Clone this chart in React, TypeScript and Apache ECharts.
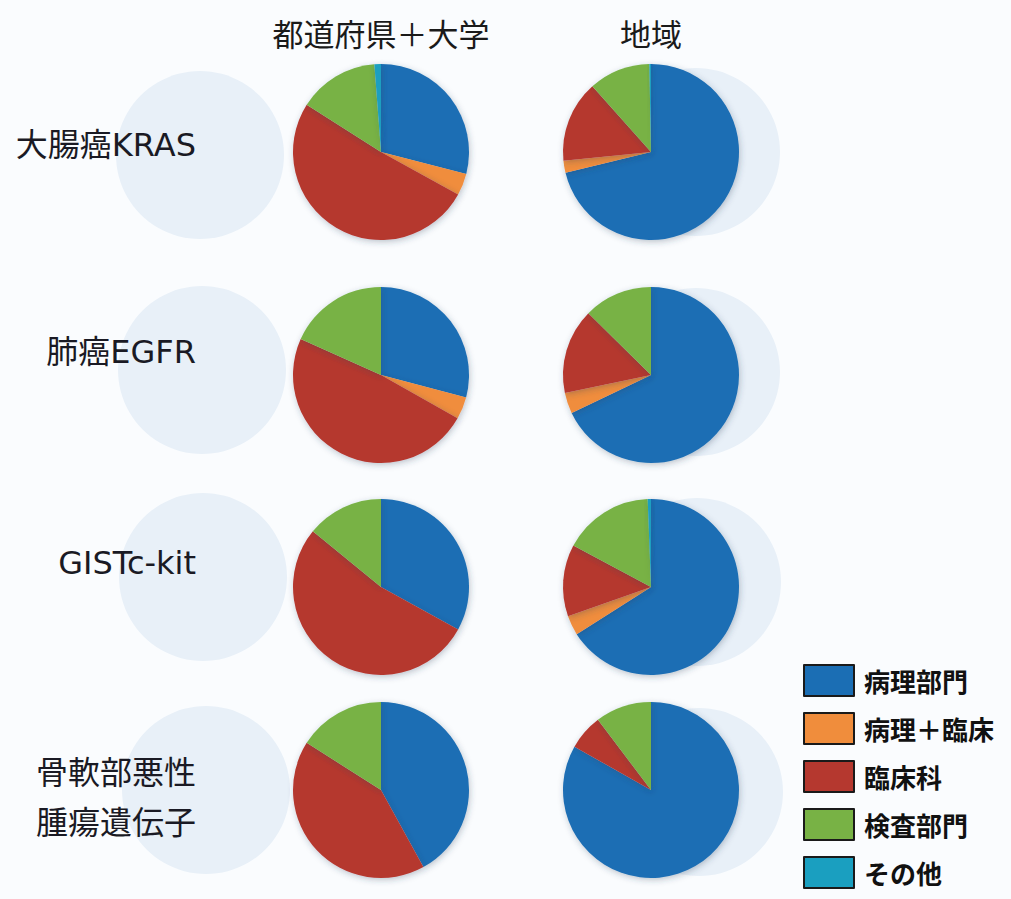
import React, { useEffect, useRef } from "react";
import * as echarts from "echarts";

const categories = ["病理部門", "病理＋臨床", "臨床科", "検査部門", "その他"];
const colors = ["#1b6eb4", "#f08d3c", "#b5382f", "#78b245", "#1a9fc0"];
const columnHeaders = ["都道府県＋大学", "地域"];
const rowLabels = ["大腸癌KRAS", "肺癌EGFR", "GISTc-kit", "骨軟部悪性\n腫瘍遺伝子"];

// 都道府県＋大学 (share per category, %)
const prefKRAS = [29, 4, 51, 14.8, 1.2];
const prefEGFR = [29.1, 4.1, 48.5, 18.3, 0];
const prefKIT = [33, 0, 52.9, 14.1, 0];
const prefBone = [42, 0, 42, 16, 0];
// 地域
const regKRAS = [71.2, 2.2, 15, 11.3, 0.3];
const regEGFR = [67.9, 3.8, 15.7, 12.6, 0];
const regKIT = [66, 3.6, 13.2, 16.6, 0.6];
const regBone = [83.2, 0, 6.5, 10.3, 0];

const prefRows = [prefKRAS, prefEGFR, prefKIT, prefBone];
const regRows = [regKRAS, regEGFR, regKIT, regBone];

const colX = [381, 651];
const rowY = [152, 375, 587, 790];
const labelY = [145, 352, 563, 798];
const RADIUS = 88;

const FONT = "'DejaVu Sans', 'Noto Sans CJK JP', sans-serif";

export default function App() {
  const ref = useRef<HTMLDivElement>(null);
  useEffect(() => {
    if (!ref.current) return;
    const chart = echarts.init(ref.current, null, { renderer: "svg" });
    const series: any[] = [];
    [prefRows, regRows].forEach((rows, ci) => {
      rows.forEach((vals, ri) => {
        series.push({
          type: "pie",
          name: `${columnHeaders[ci]}-${ri}`,
          center: [colX[ci], rowY[ri]],
          radius: RADIUS,
          startAngle: 90,
          clockwise: true,
          label: { show: false },
          labelLine: { show: false },
          emphasis: { disabled: true },
          itemStyle: {
            shadowBlur: 6,
            shadowColor: "rgba(40,60,90,0.3)",
            shadowOffsetX: 1,
            shadowOffsetY: 2,
          },
          data: categories.map((c, k) => ({ name: c, value: vals[k] })),
          z: 3,
        });
      });
    });

    const ghosts: any[] = [];
    const ghostLeft = [
      [200, 155],
      [202, 370],
      [203, 577],
      [206, 790],
    ];
    const ghostRight = [
      [696, 152],
      [696, 372],
      [697, 582],
      [699, 792],
    ];
    [...ghostLeft, ...ghostRight].forEach(([x, y]) => {
      ghosts.push({
        type: "circle",
        shape: { cx: x, cy: y, r: 84 },
        style: { fill: "#e8f0f8" },
        z: -10,
        silent: true,
      });
    });

    const texts: any[] = [];
    columnHeaders.forEach((h, i) => {
      texts.push({
        type: "text",
        x: colX[i],
        y: 32,
        style: {
          text: h,
          fontSize: 31,
          fontFamily: "'Noto Sans CJK JP', sans-serif",
          fill: "#1a1a1a",
          textAlign: "center",
          textVerticalAlign: "middle",
        },
        z: 10,
      });
    });
    rowLabels.forEach((t, i) => {
      texts.push({
        type: "text",
        x: 196,
        y: labelY[i],
        style: {
          text: t,
          fontSize: 32,
          lineHeight: 50,
          fontFamily: FONT,
          fill: "#1a1a24",
          textAlign: "right",
          textVerticalAlign: "middle",
        },
        z: 10,
      });
    });

    chart.setOption({
      animation: false,
      backgroundColor: "#fafcfe",
      color: colors,
      legend: {
        orient: "vertical",
        left: 803,
        top: 664,
        height: 234,
        padding: 0,
        itemWidth: 50,
        itemHeight: 31,
        itemGap: 15,
        icon: "rect",
        data: categories,
        selectedMode: false,
        itemStyle: { borderColor: "#1a1a1a", borderWidth: 2 },
        textStyle: {
          fontSize: 26,
          fontWeight: "bold",
          fontFamily: "'Noto Sans CJK JP', sans-serif",
          color: "#111",
          padding: [0, 0, 0, 5],
        },
      },
      graphic: [...ghosts, ...texts],
      series,
    });
    return () => chart.dispose();
  }, []);
  return (
    <div
      ref={ref}
      style={{ position: "fixed", left: 0, top: 0, width: 1011, height: 899 }}
    />
  );
}
